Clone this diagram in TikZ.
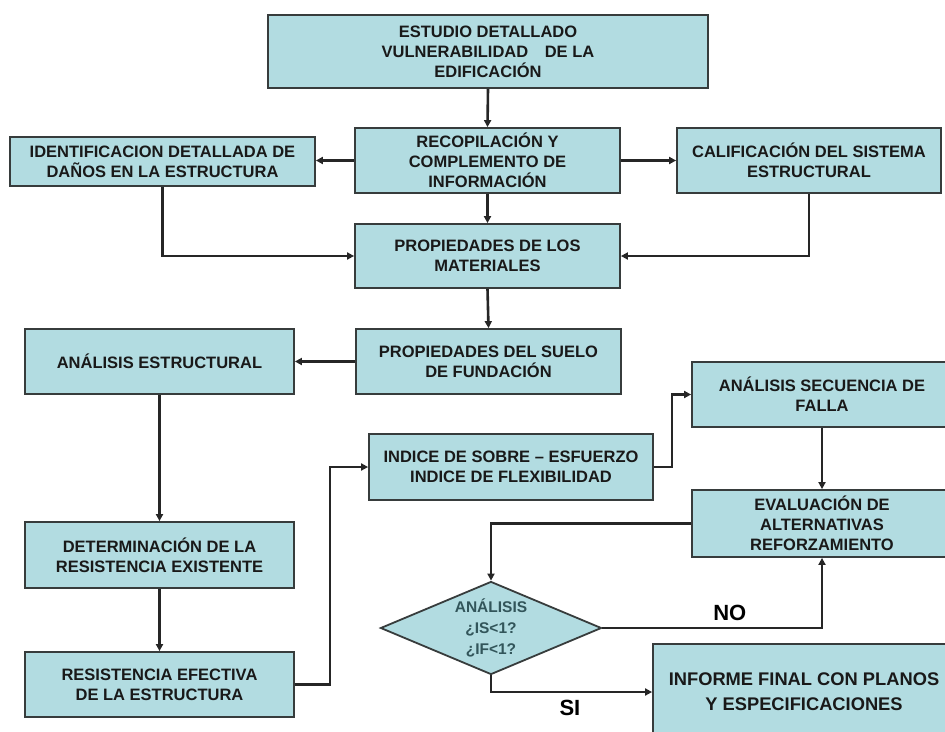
\documentclass[tikz,border=0pt]{standalone}
\usepackage{fontspec}
\setmainfont{Liberation Sans}
\usetikzlibrary{shapes.geometric,arrows.meta}
\definecolor{boxfill}{RGB}{178,220,225}
\definecolor{boxline}{RGB}{55,60,60}
\definecolor{diatxt}{RGB}{50,85,90}
\tikzset{
  box/.style={draw=boxline, line width=1.8pt, fill=boxfill, align=center, inner sep=2pt,
    font=\fontsize{16.5}{20}\selectfont\bfseries, text=black!90},
  arr/.style={line width=2.6pt, draw=black!85, -{Triangle[length=7pt,width=7pt]}, line join=miter},
  lbl/.style={font=\fontsize{22}{24}\selectfont\bfseries, text=black},
  diatext/.style={align=center, font=\fontsize{15.5}{21}\selectfont\bfseries, text=diatxt}
}
\begin{document}
\begin{tikzpicture}[x=1pt,y=-1pt]
\useasboundingbox (0,0) rectangle (945,731);
\clip (0,0) rectangle (945,731);
\fill[white] (0,0) rectangle (945,731);

\node[box, minimum width=440pt, minimum height=73pt] (est) at (488,51.5)
  {ESTUDIO DETALLADO\\VULNERABILIDAD\quad DE LA\\EDIFICACIÓN};
\node[box, minimum width=265pt, minimum height=65pt] (rec) at (487.5,160.5)
  {RECOPILACIÓN Y\\COMPLEMENTO DE\\INFORMACIÓN};
\node[box, minimum width=305pt, minimum height=49pt] (ide) at (162.5,161.5)
  {IDENTIFICACION DETALLADA DE\\DAÑOS EN LA ESTRUCTURA};
\node[box, minimum width=264pt, minimum height=65pt] (cal) at (809,160.5)
  {CALIFICACIÓN DEL SISTEMA\\ESTRUCTURAL};
\node[box, minimum width=265pt, minimum height=64pt] (mat) at (487.5,256)
  {PROPIEDADES DE LOS\\MATERIALES};
\node[box, minimum width=265pt, minimum height=65pt] (sue) at (488.5,361.5)
  {PROPIEDADES DEL SUELO\\DE FUNDACIÓN};
\node[box, minimum width=269pt, minimum height=65pt] (ae) at (159.5,361.5)
  {ANÁLISIS ESTRUCTURAL};
\node[box, minimum width=260pt, minimum height=65pt] (sec) at (822,394.5)
  {ANÁLISIS SECUENCIA DE\\FALLA};
\node[box, minimum width=284pt, minimum height=66pt] (ind) at (511,467)
  {INDICE DE SOBRE – ESFUERZO\\INDICE DE FLEXIBILIDAD};
\node[box, minimum width=260pt, minimum height=67pt] (eva) at (822,523.5)
  {EVALUACIÓN DE\\ALTERNATIVAS\\REFORZAMIENTO};
\node[box, minimum width=269pt, minimum height=66pt] (det) at (159.5,555)
  {DETERMINACIÓN DE LA\\RESISTENCIA EXISTENTE};
\node[box, minimum width=269pt, minimum height=65pt] (res) at (159.5,684.5)
  {RESISTENCIA EFECTIVA\\DE LA ESTRUCTURA};
\node[box, diamond, aspect=2.37, inner sep=0pt, minimum width=221pt, minimum height=93pt,
  label={[diatext]center:{ANÁLISIS\\¿IS<1?\\¿IF<1?}}] (dia) at (491,628) {};
\node[box, minimum width=302pt, minimum height=96pt, font=\fontsize{18.3}{25}\selectfont\bfseries] (inf) at (804,692)
  {INFORME FINAL CON PLANOS\\Y ESPECIFICACIONES};

\coordinate (c1) at (330,0);
\coordinate (c2) at (672,0);

\draw[arr] (est.south) -- (rec.north);
\draw[arr] (rec.west) -- (rec.west -| ide.east);
\draw[arr] (rec.east) -- (rec.east -| cal.west);
\draw[arr] (rec.south) -- (mat.north);
\draw[arr] (ide.south) |- (mat.west);
\draw[arr] (cal.south) |- (mat.east);
\draw[arr] (mat.south) -- (sue.north);
\draw[arr] (sue.west) -- (sue.west -| ae.east);
\draw[arr] (ae.south) -- (det.north);
\draw[arr] (det.south) -- (res.north);
\draw[arr] (res.east) -| (c1 |- ind.west) -- (ind.west);
\draw[arr] (ind.east) -| (c2 |- sec.west) -- (sec.west);
\draw[arr] (sec.south) -- (eva.north);
\draw[arr] (eva.west) -| (dia.north);
\draw[arr] (dia.east) -| (eva.south) node[pos=0.29, above=3pt, lbl] (no) {NO};
\draw[arr] (dia.south) |- (inf.west) node[pos=0.745, below=3pt, lbl] (si) {SI};
\end{tikzpicture}
\end{document}
